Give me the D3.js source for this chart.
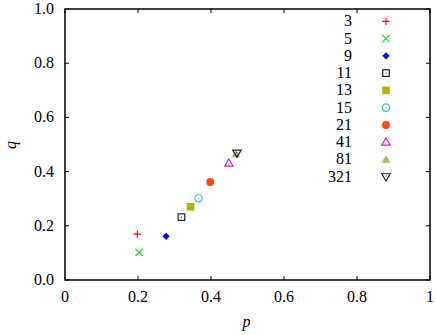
<!DOCTYPE html>
<html><head><meta charset="utf-8">
<script src="https://cdn.jsdelivr.net/npm/d3@7"></script>
<style>body{margin:0;background:#fff}svg{display:block}</style>
</head><body>
<svg id="c" width="436" height="335"></svg>
<script>
const labels = ["3","5","9","11","13","15","21","41","81","321"];
const pValues = [0.198,0.203,0.277,0.319,0.344,0.366,0.398,0.449,0.468,0.471];
const qValues = [0.169,0.102,0.161,0.232,0.270,0.301,0.362,0.431,0.465,0.468];
const shapes = ["plus","cross","diamond","squareOpen","square","circleOpen","circle","triangleOpen","triangle","triangleDownOpen"];
const colors = ["#ff0000","#22dd22","#0000ee","#222222","#b3b300","#33c8c8","#ff4a10","#cc22cc","#b4b45a","#222222"];
const xTicks = [0,0.2,0.4,0.6,0.8,1];
const yTicks = [0,0.2,0.4,0.6,0.8,1.0];

const svg = d3.select("#c");
const L=65,R=430,T=9,B=280;
const x = d3.scaleLinear().domain([0,1]).range([L,R]);
const y = d3.scaleLinear().domain([0,1]).range([B,T]);

const tl = 4;
function txt(sel){ return sel.append("text").style("font-family",'"Liberation Serif"').style("font-size","16px"); }
const g = svg.append("g");
xTicks.forEach(t=>{
  g.append("line").attr("x1",x(t)).attr("x2",x(t)).attr("y1",B).attr("y2",B-tl).attr("stroke","#000");
  g.append("line").attr("x1",x(t)).attr("x2",x(t)).attr("y1",T).attr("y2",T+tl).attr("stroke","#000");
  txt(g).attr("x",x(t)).attr("y",B+22).attr("text-anchor","middle").text(String(t));
});
yTicks.forEach(t=>{
  g.append("line").attr("x1",L).attr("x2",L+tl).attr("y1",y(t)).attr("y2",y(t)).attr("stroke","#000");
  g.append("line").attr("x1",R).attr("x2",R-tl).attr("y1",y(t)).attr("y2",y(t)).attr("stroke","#000");
  txt(g).attr("x",L-11).attr("y",y(t)+5).attr("text-anchor","end").text(t.toFixed(1));
});
svg.append("rect").attr("x",L).attr("y",T).attr("width",R-L).attr("height",B-T).attr("fill","none").attr("stroke","#000").attr("stroke-width",1.5);

txt(svg).attr("x",(L+R)/2-1).attr("y",327).attr("text-anchor","middle").style("font-style","italic").text("p");
txt(svg).attr("transform","translate(16,145) rotate(-90)").attr("text-anchor","middle").style("font-style","italic").text("q");

function marker(sel, shape, color){
  const s=3.6;
  switch(shape){
    case "plus": sel.append("path").attr("d",`M${-s},0H${s}M0,${-s}V${s}`).attr("stroke",color).attr("stroke-width",1.2).attr("fill","none"); break;
    case "cross": sel.append("path").attr("d",`M${-s},${-s}L${s},${s}M${-s},${s}L${s},${-s}`).attr("stroke",color).attr("stroke-width",1.2).attr("fill","none"); break;
    case "diamond": sel.append("path").attr("d",`M0,${-s}L${s},0L0,${s}L${-s},0Z`).attr("fill",color); break;
    case "squareOpen": sel.append("rect").attr("x",-3.3).attr("y",-3.3).attr("width",6.6).attr("height",6.6).attr("fill","none").attr("stroke",color).attr("stroke-width",1.2);
      sel.append("circle").attr("r",0.6).attr("fill",color); break;
    case "square": sel.append("rect").attr("x",-3.8).attr("y",-3.8).attr("width",7.6).attr("height",7.6).attr("fill",color); break;
    case "circleOpen": sel.append("circle").attr("r",3.7).attr("fill","none").attr("stroke",color).attr("stroke-width",1.2);
      sel.append("circle").attr("r",0.6).attr("fill",color); break;
    case "circle": sel.append("circle").attr("r",4).attr("fill",color); break;
    case "triangleOpen": sel.append("path").attr("d","M0,-4.2L4.2,3L-4.2,3Z").attr("fill","none").attr("stroke",color).attr("stroke-width",1.2);
      sel.append("circle").attr("cy",0.6).attr("r",0.6).attr("fill",color); break;
    case "triangle": sel.append("path").attr("d","M0,-4.2L4.4,3.2L-4.4,3.2Z").attr("fill",color); break;
    case "triangleDownOpen": sel.append("path").attr("d","M0,4.2L4.2,-3L-4.2,-3Z").attr("fill","none").attr("stroke",color).attr("stroke-width",1.2);
      sel.append("circle").attr("cy",-0.6).attr("r",0.6).attr("fill",color); break;
  }
}

labels.forEach((lab,i)=>{
  const pg = svg.append("g").attr("transform",`translate(${x(pValues[i])},${y(qValues[i])})`);
  marker(pg, shapes[i], colors[i]);
  const ly = 21.3 + i*17.27;
  txt(svg).attr("x",352).attr("y",ly+5).attr("text-anchor","end").text(lab);
  const lg = svg.append("g").attr("transform",`translate(386,${ly})`);
  marker(lg, shapes[i], colors[i]);
});
</script>
</body></html>
